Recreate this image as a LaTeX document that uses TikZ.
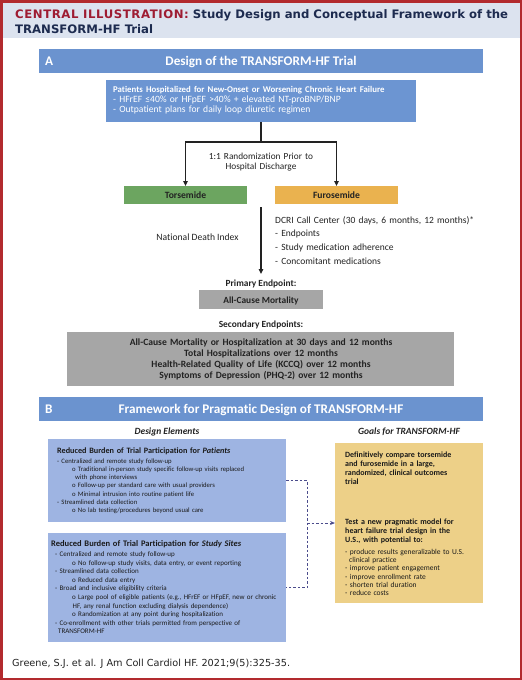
\documentclass[tikz,border=0pt]{standalone}
\usepackage{fontspec}
\setmainfont{Carlito}[Ligatures=NoCommon]
\newfontfamily\djv{DejaVu Sans}
\newfontfamily\djvsp[LetterSpace=5]{DejaVu Sans}
\usetikzlibrary{arrows.meta}
\definecolor{band}{HTML}{DCE3EF}
\definecolor{frame}{HTML}{B22A2E}
\definecolor{titlered}{HTML}{9E1C32}
\definecolor{titlenavy}{HTML}{1D2B4F}
\definecolor{hdrblue}{HTML}{6B93CF}
\definecolor{patblue}{HTML}{6C95D2}
\definecolor{torsgreen}{HTML}{6CA560}
\definecolor{furoorange}{HTML}{EAB24F}
\definecolor{endgray}{HTML}{A6A6A6}
\definecolor{lightblue}{HTML}{9EB4E2}
\definecolor{tan}{HTML}{EDD088}
\definecolor{dashcol}{HTML}{4B4C8C}
\definecolor{txt}{HTML}{222222}
\definecolor{btxt}{HTML}{1A1A1A}
\tikzset{
  boxA/.style={inner sep=0, outer sep=0},
  hdr/.style={boxA, fill=hdrblue, minimum width=444pt, minimum height=24pt},
  hdrtext/.style={inner sep=0, text=white, font=\bfseries\fontsize{13.2}{15}\selectfont},
  lbl/.style={inner sep=0, text=txt},
  block/.style={inner sep=0, anchor=base west, align=left},
  conn/.style={draw=txt, line width=1.3pt},
  tip/.style={-{Triangle[length=5pt,width=4.5pt]}},
  dashconn/.style={draw=dashcol, line width=0.9pt, dash pattern=on 2.5pt off 2pt},
  afont/.style={font=\fontsize{9.6}{11}\selectfont},
  abold/.style={font=\bfseries\fontsize{9.6}{11}\selectfont},
}
\begin{document}
\begin{tikzpicture}[x=1pt,y=-1pt]
\useasboundingbox (0,0) rectangle (522,680);
\fill[band] (0,0) rectangle (522,38);
\draw[frame, line width=2.5pt] (1.25,1.25) rectangle (520.75,678.75);

% title
\node[lbl, anchor=base west] (title1) at (15,18)
 {\djv\bfseries\fontsize{11.7}{13}\selectfont\textcolor{titlered}{\djvsp\bfseries CENTRAL ILLUSTRATION:}\ \textcolor{titlenavy}{Study Design and Conceptual Framework of the}};
\node[lbl, anchor=base west, text=titlenavy] (title2) at (15,33)
 {\djv\bfseries\fontsize{11.7}{13}\selectfont TRANSFORM-HF Trial};

% ===== Section A =====
\node[hdr] (hA) at (261,61) {};
\node[hdrtext, anchor=base west] (hAl) at (45,65.5) {A};
\node[hdrtext, anchor=base] (hAt) at (261,65.5) {Design of the TRANSFORM-HF Trial};

\node[boxA, fill=patblue, minimum width=310pt, minimum height=42pt] (patA) at (261,101) {};
\node[block, text=white, text width=300pt, font=\fontsize{9.6}{10.3}\selectfont] (patAt) at (113,92)
 {{\bfseries\fontsize{8.8}{10.3}\selectfont Patients Hospitalized for New-Onset or Worsening Chronic Heart Failure}\\
  - HFrEF ≤40\% or HFpEF >40\% + elevated NT-proBNP/BNP\\
  - Outpatient plans for daily loop diuretic regimen};

\coordinate (split) at (261,142);
\draw[conn] (patA.south) -- (split);
\node[boxA, fill=torsgreen, minimum width=123pt, minimum height=18pt] (tors) at (185.5,195) {};
\node[boxA, fill=furoorange, minimum width=123pt, minimum height=18pt] (furo) at (336.5,195) {};
\node[lbl, anchor=base, abold] (torst) at (185.5,198) {Torsemide};
\node[lbl, anchor=base, abold] (furot) at (336.5,198) {Furosemide};
\draw[conn, tip] (split) -| (tors.north);
\draw[conn, tip] (split) -| (furo.north);
\node[lbl, anchor=base, align=center, text width=150pt, font=\fontsize{9.3}{10.5}\selectfont] (rand) at (261,159)
 {1:1 Randomization Prior to\\Hospital Discharge};

\coordinate (mid) at (261,207);
\coordinate (midend) at (261,274);
\draw[conn, tip] (mid) -- (midend);
\node[block, text=txt, text width=235pt, font=\fontsize{9.5}{13.7}\selectfont] (dcri) at (275,223)
 {DCRI Call Center (30 days, 6 months, 12 months)*\\
  - Endpoints\\
  - Study medication adherence\\
  - Concomitant medications};
\node[lbl, anchor=base, afont] (ndi) at (197.5,240) {National Death Index};

\node[lbl, anchor=base, font=\bfseries\fontsize{9.4}{10}\selectfont] (primlbl) at (261,286) {Primary Endpoint:};
\node[boxA, fill=endgray, minimum width=124pt, minimum height=19pt] (prim) at (261,299.5) {};
\node[lbl, anchor=base, font=\bfseries\fontsize{9.4}{10}\selectfont] (primt) at (261,303) {All-Cause Mortality};

\node[lbl, anchor=base, font=\bfseries\fontsize{9.4}{10}\selectfont] (seclbl) at (261,327) {Secondary Endpoints:};
\node[boxA, fill=endgray, minimum width=387pt, minimum height=54pt] (sec) at (260.5,359) {};
\node[lbl, anchor=base, align=center, text width=385pt, font=\bfseries\fontsize{9.6}{11}\selectfont] (sect) at (261,345.5)
 {All-Cause Mortality or Hospitalization at 30 days and 12 months\\
  Total Hospitalizations over 12 months\\
  Health-Related Quality of Life (KCCQ) over 12 months\\
  Symptoms of Depression (PHQ-2) over 12 months};

% ===== Section B =====
\node[hdr] (hB) at (261,409) {};
\node[hdrtext, anchor=base west] (hBl) at (45,413.5) {B};
\node[hdrtext, anchor=base] (hBt) at (261,413.5) {Framework for Pragmatic Design of TRANSFORM-HF};

\node[lbl, anchor=base, font=\bfseries\itshape\fontsize{9.5}{10}\selectfont] (delbl) at (167,434) {Design Elements};
\node[lbl, anchor=base, font=\bfseries\itshape\fontsize{9.5}{10}\selectfont] (golbl) at (409,434) {Goals for TRANSFORM-HF};

\node[boxA, fill=lightblue, minimum width=238pt, minimum height=83pt] (Bpat) at (167,480.5) {};
\node[block, text=btxt, text width=230pt, font=\bfseries\fontsize{8.2}{9}\selectfont] (Bpatt) at (57,453)
 {Reduced Burden of Trial Participation for \textit{Patients}};
\node[block, text=btxt, text width=230pt, font=\fontsize{6.7}{8.3}\selectfont] (Bpatb) at (57,463)
 {- Centralized and remote study follow-up\\
  \hspace*{15pt}o Traditional in-person study specific follow-up visits replaced\\
  \hspace*{18pt}with phone interviews\\
  \hspace*{15pt}o Follow-up per standard care with usual providers\\
  \hspace*{15pt}o Minimal intrusion into routine patient life\\
  - Streamlined data collection\\
  \hspace*{15pt}o No lab testing/procedures beyond usual care};

\node[boxA, fill=lightblue, minimum width=238pt, minimum height=109pt] (Bsites) at (167,587.5) {};
\node[block, text=btxt, text width=235pt, font=\bfseries\fontsize{8.5}{9}\selectfont] (Bsitest) at (51,546.5)
 {Reduced Burden of Trial Participation for \textit{Study Sites}};
\node[block, text=btxt, text width=240pt, font=\fontsize{7}{8.6}\selectfont] (Bsitesb) at (55,556.5)
 {- Centralized and remote study follow-up\\
  \hspace*{17pt}o No follow-up study visits, data entry, or event reporting\\
  - Streamlined data collection\\
  \hspace*{17pt}o Reduced data entry\\
  - Broad and inclusive eligibility criteria\\
  \hspace*{17pt}o Large pool of eligible patients (e.g., HFrEF or HFpEF, new or chronic\\
  \hspace*{17.5pt}HF, any renal function excluding dialysis dependence)\\
  \hspace*{17pt}o Randomization at any point during hospitalization\\
  - Co-enrollment with other trials permitted from perspective of\\
  \hspace*{3pt}TRANSFORM-HF};

\node[boxA, fill=tan, minimum width=148pt, minimum height=160pt] (goals) at (409,523) {};
\node[block, text=btxt, text width=137pt, font=\bfseries\fontsize{8}{9}\selectfont] (goal1) at (345,457)
 {Definitively compare torsemide\\and furosemide in a large,\\randomized, clinical outcomes\\trial};
\node[block, text=btxt, text width=137pt, font=\bfseries\fontsize{8}{9}\selectfont] (goal2) at (345,524)
 {Test a new pragmatic model for\\heart failure trial design in the\\U.S., with potential to:};
\node[block, text=btxt, text width=137pt, font=\fontsize{7.5}{8.2}\selectfont] (goal2b) at (345,554.5)
 {- produce results generalizable to U.S.\\
  \hspace*{4pt}clinical practice\\
  - improve patient engagement\\
  - improve enrollment rate\\
  - shorten trial duration\\
  - reduce costs};

\coordinate (jn) at (307,523);
\draw[dashconn] (Bpat.east) -| (jn) |- (Bsites.east);
\draw[dashconn, -{Stealth[length=5pt,width=4pt]}] (jn) -- (goals.west);

% footer
\node[lbl, anchor=base west, font=\djv\fontsize{9.7}{11}\selectfont] (foot) at (12,666)
 {Greene, S.J. et al. J Am Coll Cardiol HF. 2021;9(5):325-35.};
\end{tikzpicture}
\end{document}
